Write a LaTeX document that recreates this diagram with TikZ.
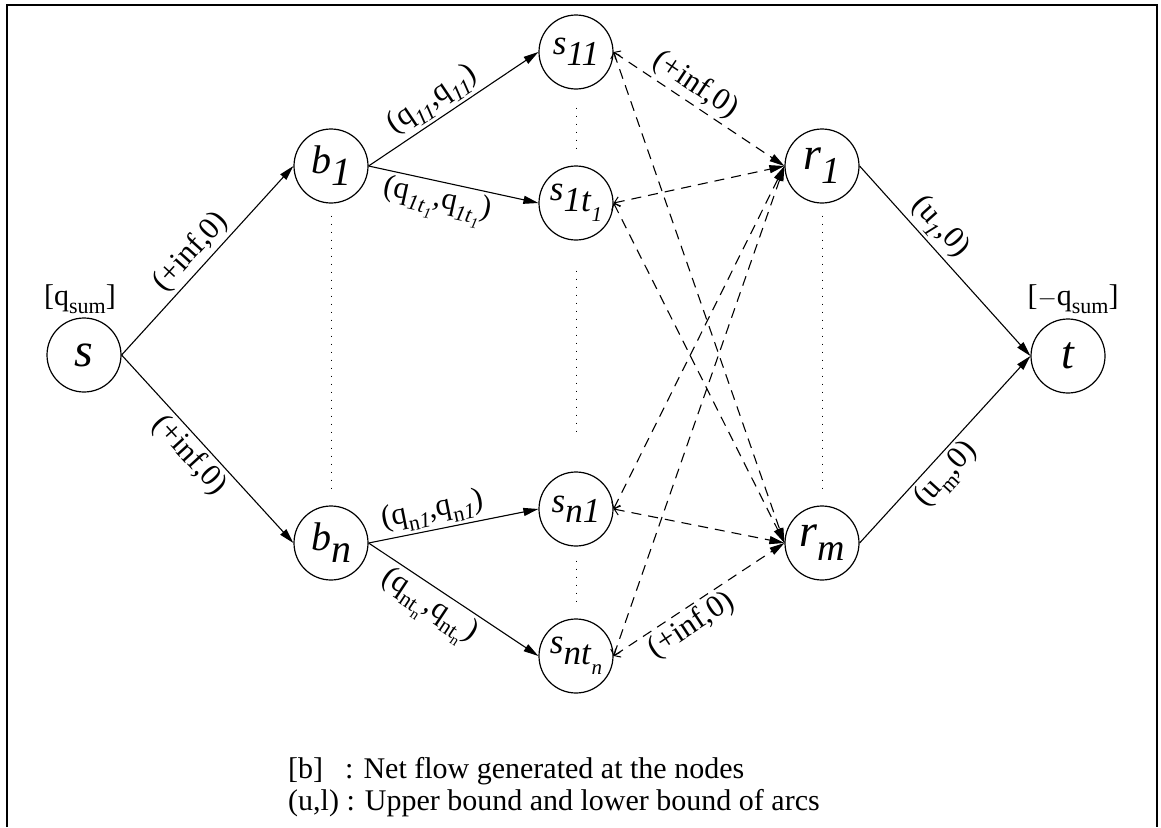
\documentclass[tikz,border=0pt]{standalone}
\usepackage{fontspec}
\setmainfont{Liberation Serif}
\usetikzlibrary{arrows.meta}

\newcommand\fs[1]{\fontsize{#1}{#1}\selectfont}
% lowered, smaller index used in the arc labels
\newcommand\dn[1]{\raisebox{-0.28em}{\fs{22}#1}}
\newcommand\ddn[1]{\raisebox{-0.22em}{\fs{15}#1}}
% lowered index used inside the vertices
\newcommand\vx[1]{\raisebox{-0.3em}{#1}}
\newcommand\vxx[1]{\raisebox{-0.3em}{\fs{21}#1}}

\begin{document}
\begin{tikzpicture}[x=1pt,y=-1pt,
  vertex/.style={circle,draw,line width=1.2pt,minimum size=74pt,inner sep=0pt},
  arc/.style={line width=1.1pt,-{Triangle[length=15pt,width=8pt]}},
  darc/.style={line width=1.1pt,dash pattern=on 10pt off 7pt,
    {Straight Barb[length=5pt,width=10pt,line width=1pt]}-{Triangle[length=15pt,width=8pt]}},
  lab/.style={font=\fs{31},sloped,inner sep=3pt},
  guide/.style={line width=1pt,dash pattern=on 1.4pt off 6.6pt},
  txt/.style={font=\fs{30},inner sep=0pt,anchor=base west},
]
\useasboundingbox (0,0) rectangle (1161,827);

% open frame
\draw[line width=2.5pt] (7,827) -- (7,5) -- (1157,5) -- (1157,827);

% vertices
\node[vertex] (s)    at (84,355)  {\fs{48}\textit{s}};
\node[vertex] (b1)   at (331,166) {\fs{40}\textit{b}\vx{\textit{1}}};
\node[vertex] (bn)   at (331,543) {\fs{40}\textit{b}\vx{\textit{n}}};
\node[vertex] (s11)  at (576,52)  {\fs{35}\textit{s}\vx{\textit{11}}};
\node[vertex] (s1t1) at (576,203) {\fs{35}\textit{s}\vx{\textit{1t}\vxx{\textit{1}}}};
\node[vertex] (sn1)  at (576,509) {\fs{35}\textit{s}\vx{\textit{n1}}};
\node[vertex] (sntn) at (576,656) {\fs{35}\textit{s}\vx{\textit{nt}\vxx{\textit{n}}}};
\node[vertex] (r1)   at (822,166) {\fs{46}\textit{r}\vx{\fs{38}\textit{1}}};
\node[vertex] (rm)   at (822,543) {\fs{46}\textit{r}\vx{\fs{38}\textit{m}}};
\node[vertex] (t)    at (1068,356) {\fs{46}\textit{t}};

% supplies
\node[font=\fs{30},anchor=base] (qs) at (80,305) {[q\dn{sum}]};
\node[font=\fs{30},anchor=base] (qt) at (1073,305) {[$-$q\dn{sum}]};

% solid arcs
\draw[arc] (s.east) -- node[lab,above,pos=0.48] (l1) {(+inf,0)} (b1.west);
\draw[arc] (s.east) -- node[lab,below,pos=0.47] (l2) {(+inf,0)} (bn.west);
\draw[arc] (b1.east) -- node[lab,above,pos=0.44] (l3) {(q\dn{\textit{11}},q\dn{\textit{11}})} (s11.west);
\draw[arc] (b1.east) -- node[lab,below,pos=0.43] (l4) {(q\dn{\textit{1t}\ddn{\textit{1}}},q\dn{\textit{1t}\ddn{\textit{1}}})} (s1t1.west);
\draw[arc] (bn.east) -- node[lab,above,pos=0.40] (l5) {(q\dn{n\textit{1}},q\dn{n\textit{1}})} (sn1.west);
\draw[arc] (bn.east) -- node[lab,below,pos=0.42] (l6) {(q\dn{nt\ddn{n}},q\dn{nt\ddn{n}})} (sntn.west);
\draw[arc] (r1.east) -- node[lab,above,pos=0.39] (l7) {(u\dn{\textit{1}},0)} (t.west);
\draw[arc] (rm.east) -- node[lab,below,pos=0.43] (l8) {(u\dn{m},0)} (t.west);

% dashed arcs
\draw[darc] (s11.east) -- node[lab,above,pos=0.42] (l9) {(+inf,0)} (r1.west);
\draw[darc] (s11.east) -- (rm.west);
\draw[darc] (s1t1.east) -- (r1.west);
\draw[darc] (s1t1.east) -- (rm.west);
\draw[darc] (sn1.east) -- (r1.west);
\draw[darc] (sn1.east) -- (rm.west);
\draw[darc] (sntn.east) -- (r1.west);
\draw[darc] (sntn.east) -- node[lab,below,pos=0.40] (l10) {(+inf,0)} (rm.west);

% dotted guides between repeated vertices
\draw[guide,shorten <=12pt,shorten >=12pt] (b1.south) -- (bn.north);
\draw[guide,shorten <=18pt,shorten >=16pt] (s11.south) -- (s1t1.north);
\draw[guide,shorten <=30pt,shorten >=35pt] (s1t1.south) -- (sn1.north);
\draw[guide,shorten <=14pt,shorten >=16pt] (sn1.south) -- (sntn.north);
\draw[guide,shorten <=12pt,shorten >=16pt] (r1.south) -- (rm.north);

% legend
\node[txt] (k1) at (288,778) {[b]};
\node[txt] (k2) at (345,778) {: Net flow generated at the nodes};
\node[txt] (k3) at (288,810) {(u,l) : Upper bound and lower bound of arcs};
\end{tikzpicture}
\end{document}
